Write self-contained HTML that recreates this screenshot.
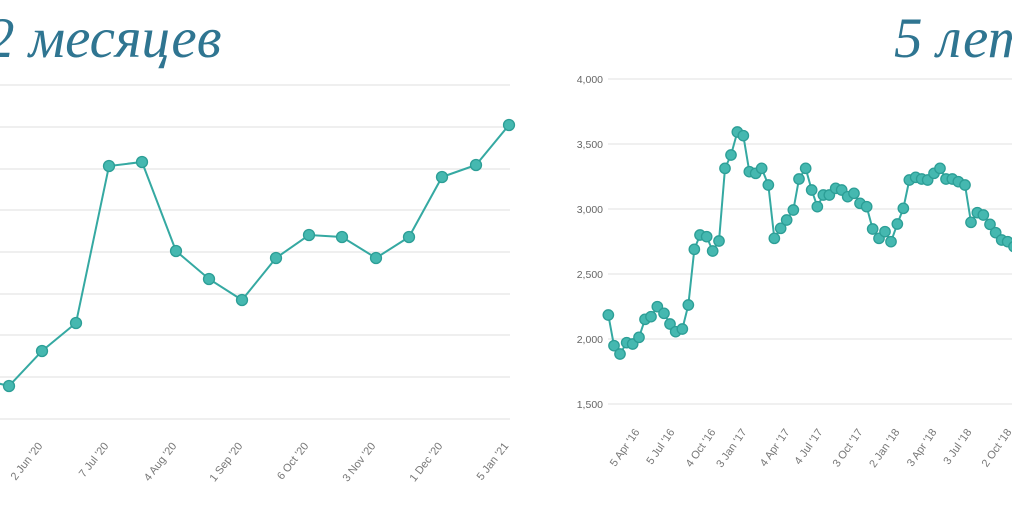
<!DOCTYPE html>
<html><head><meta charset="utf-8"><style>
html,body{margin:0;padding:0;background:#fff;width:1012px;height:506px;overflow:hidden}
svg{display:block}
.t{font-family:"Liberation Serif",serif;font-style:italic;font-size:57px;fill:#2f7591}
.xl{font-family:"Liberation Sans",sans-serif;font-size:11px;fill:#777}
.yl{font-family:"Liberation Sans",sans-serif;font-size:10.5px;fill:#666}
</style></head><body>
<svg id="s" width="1012" height="506" xmlns="http://www.w3.org/2000/svg">
<text class="t" x="-14" y="57">2 месяцев</text>
<text class="t" x="894" y="57">5 лет</text>
<g id="g"></g>
</svg>
<script>
var g=document.getElementById('g'),h='';
[85,127,169,210,252,294,335,377,419].forEach(function(y){h+='<line x1="0" x2="510" y1="'+y+'" y2="'+y+'" stroke="#eaeaea" stroke-width="1.5"/>';});
var yl=['4,000','3,500','3,000','2,500','2,000','1,500'];
[79,144,209,274,339,404].forEach(function(y,i){h+='<line x1="608" x2="1012" y1="'+y+'" y2="'+y+'" stroke="#ececec" stroke-width="1.5"/>';h+='<text class="yl" x="603" y="'+(y+4)+'" text-anchor="end">'+yl[i]+'</text>';});
var L=[[-24,378],[9,386],[42,351],[76,323],[109,166],[142,162],[176,251],[209,279],[242,300],[276,258],[309,235],[342,237],[376,258],[409,237],[442,177],[476,165],[509,125]];
var Z=[[205,765],[222,857],[240,882],[260,848],[278,852],[297,832],[315,778],[333,770],[352,740],[372,760],[390,792],[407,815],[427,807],[445,735],[463,568],[480,525],[500,530],[518,573],[537,543],[555,325],[573,285],[592,216],[610,227],[628,335],[647,340],[665,325],[685,375],[703,535],[722,505],[740,480],[760,450],[777,357],[797,325],[815,390],[832,440],[850,405],[868,405],[887,385],[905,390],[923,410],[942,400],[960,430],[980,440],[998,507],[1017,535],[1035,515],[1053,545],[1072,492],[1090,445],[1108,360],[1127,352],[1145,357],[1163,360],[1182,340],[1200,325],[1218,357],[1237,357],[1255,365],[1275,375],[1293,487],[1312,458],[1330,465],[1350,493],[1367,518],[1385,540],[1403,545],[1422,560],[1440,570]];
var R=Z.map(function(p){return [540+p[0]/3,60+p[1]/3];});
function series(P,r){var s='<polyline fill="none" stroke="#35a9a2" stroke-width="2" points="'+P.map(function(p){return p.join(',')}).join(' ')+'"/>';
P.forEach(function(p){s+='<circle cx="'+p[0]+'" cy="'+p[1]+'" r="'+r+'" fill="#45b8b0" stroke="#2c9e96" stroke-width="1.3"/>';});return s;}
h+=series(L,5.5)+series(R,5.2);
var lx=[["2 Jun '20",43],["7 Jul '20",109],["4 Aug '20",177],["1 Sep '20",243],["6 Oct '20",309],["3 Nov '20",376],["1 Dec '20",443],["5 Jan '21",509]];
lx.forEach(function(a){h+='<text class="xl" text-anchor="end" transform="translate('+a[1]+',446) rotate(-52)">'+a[0]+'</text>';});
var rx=[["5 Apr '16",640],["5 Jul '16",675],["4 Oct '16",716],["3 Jan '17",747],["4 Apr '17",790],["4 Jul '17",823],["3 Oct '17",863],["2 Jan '18",900],["3 Apr '18",937],["3 Jul '18",972],["2 Oct '18",1012]];
rx.forEach(function(a){h+='<text class="xl" text-anchor="end" transform="translate('+a[1]+',432) rotate(-55)">'+a[0]+'</text>';});
g.innerHTML=h;
</script>
</body></html>
